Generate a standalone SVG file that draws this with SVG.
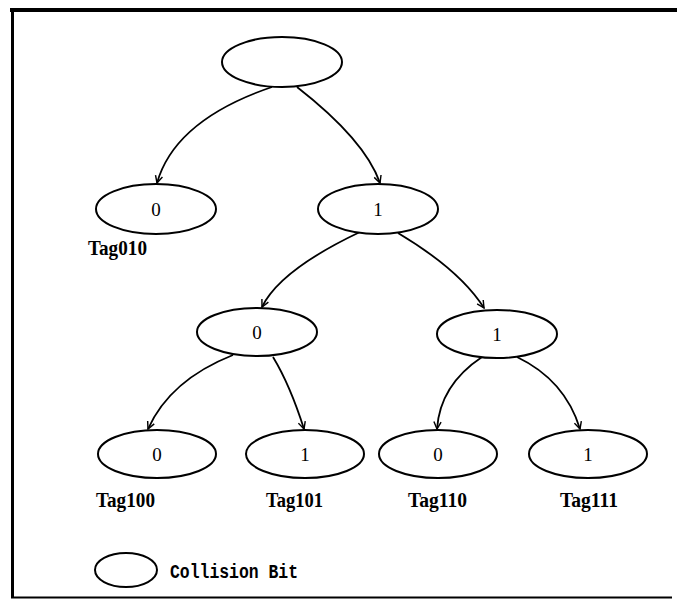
<svg xmlns="http://www.w3.org/2000/svg" width="677" height="599" viewBox="0 0 677 599">
  <defs>
    <marker id="arrow" viewBox="0 0 10 10" refX="9" refY="5" markerWidth="9" markerHeight="9" markerUnits="userSpaceOnUse" orient="auto">
      <path d="M1,1 L9,5 L1,9" fill="none" stroke="#000" stroke-width="1.6"/>
    </marker>
  </defs>
  <style>
    .node ellipse { fill: #fff; stroke: #000; stroke-width: 2; }
    .bit { font-family: "Liberation Serif", "Times New Roman", serif; font-size: 19px; fill: #000; text-anchor: middle; dominant-baseline: central; }
    .tag { font-family: "Liberation Serif", "Times New Roman", serif; font-size: 20px; font-weight: bold; fill: #000; }
    .legend { font-family: "Liberation Mono", "Courier New", monospace; font-size: 20px; font-weight: bold; fill: #000; }
    .edge { fill: none; stroke: #000; stroke-width: 1.8; marker-end: url(#arrow); }
    .frame { stroke: #000; fill: none; }
  </style>
  <rect width="677" height="599" fill="#fff"/>

  <!-- frame -->
  <g id="frame">
    <line class="frame" x1="10" y1="10" x2="677" y2="10" stroke-width="4"/>
    <line class="frame" x1="12.5" y1="8" x2="12.5" y2="598" stroke-width="3"/>
    <line class="frame" x1="11" y1="597.5" x2="672" y2="597.5" stroke-width="2"/>
  </g>

  <!-- connectors -->
  <g id="connectors">
    <path class="edge" d="M272,87 Q175,120 157,183"/>
    <path class="edge" d="M297,87 Q365,140 380,183"/>
    <path class="edge" d="M360,232 Q280,270 262,307"/>
    <path class="edge" d="M398,233 Q460,270 484,308"/>
    <path class="edge" d="M233,355 Q170,380 148,429"/>
    <path class="edge" d="M273,357 Q290,385 304,429"/>
    <path class="edge" d="M482,357 Q440,385 437,429"/>
    <path class="edge" d="M517,357 Q565,380 580,429"/>
  </g>

  <!-- nodes -->
  <g id="root" class="node">
    <ellipse cx="282" cy="62" rx="60" ry="25"/>
  </g>
  <g id="n0" class="node">
    <ellipse cx="156" cy="209" rx="60" ry="25"/>
    <text class="bit" x="156" y="209">0</text>
    <text class="tag" x="88" y="255" textLength="59" lengthAdjust="spacingAndGlyphs">Tag010</text>
  </g>
  <g id="n1" class="node">
    <ellipse cx="378" cy="209" rx="60" ry="25"/>
    <text class="bit" x="378" y="209">1</text>
  </g>
  <g id="n10" class="node">
    <ellipse cx="257" cy="332" rx="60" ry="24"/>
    <text class="bit" x="257" y="332">0</text>
  </g>
  <g id="n11" class="node">
    <ellipse cx="497" cy="334" rx="60" ry="24"/>
    <text class="bit" x="497" y="334">1</text>
  </g>
  <g id="n100" class="node">
    <ellipse cx="157" cy="454" rx="59" ry="24"/>
    <text class="bit" x="157" y="454">0</text>
    <text class="tag" x="96" y="507" textLength="59" lengthAdjust="spacingAndGlyphs">Tag100</text>
  </g>
  <g id="n101" class="node">
    <ellipse cx="305" cy="454" rx="59" ry="24"/>
    <text class="bit" x="305" y="454">1</text>
    <text class="tag" x="266" y="507" textLength="57" lengthAdjust="spacingAndGlyphs">Tag101</text>
  </g>
  <g id="n110" class="node">
    <ellipse cx="438" cy="454" rx="59" ry="24"/>
    <text class="bit" x="438" y="454">0</text>
    <text class="tag" x="408" y="507" textLength="59" lengthAdjust="spacingAndGlyphs">Tag110</text>
  </g>
  <g id="n111" class="node">
    <ellipse cx="588" cy="454" rx="59" ry="24"/>
    <text class="bit" x="588" y="454">1</text>
    <text class="tag" x="560" y="507" textLength="58" lengthAdjust="spacingAndGlyphs">Tag111</text>
  </g>

  <!-- legend -->
  <g id="legend" class="node">
    <ellipse cx="126" cy="570" rx="31" ry="17"/>
    <text class="legend" x="170" y="578" textLength="128" lengthAdjust="spacingAndGlyphs">Collision Bit</text>
  </g>
</svg>
